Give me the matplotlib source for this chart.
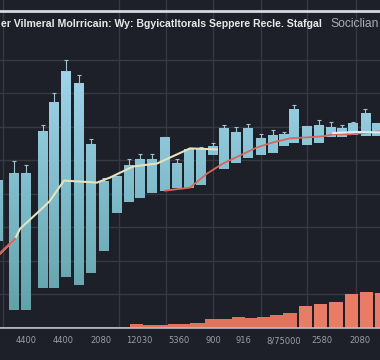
import numpy as np
import matplotlib
matplotlib.use("Agg")
import matplotlib.pyplot as plt
from matplotlib.colors import LinearSegmentedColormap
from matplotlib.lines import Line2D

# floating bars: position, low, high, whisker top (nan = no whisker)
bar_x = [-0.2, 1.12, 2.15, 3.55, 4.46, 5.45, 6.53, 7.52, 8.6, 9.63, 10.62, 11.57,
         12.56, 13.6, 14.63, 15.62, 16.57, 17.56, 18.47, 19.5, 20.5, 21.53, 22.52,
         23.43, 24.3, 25.33, 26.32, 27.31, 28.26, 29.17, 30.2, 31.16]
bar_low = [26.0, 5.4, 5.4, 12.0, 12.0, 15.3, 12.9, 16.5, 23.1, 34.4, 37.7, 38.9,
           40.4, 41.0, 41.9, 41.9, 42.8, 51.5, 47.6, 49.1, 50.6, 51.5, 52.1,
           54.2, 55.1, 54.5, 55.1, 56.9, 56.9, 57.5, 57.2, 57.2]
bar_high = [44.3, 46.4, 46.4, 58.7, 67.4, 76.6, 73.1, 54.8, 44.0, 45.5, 48.8, 50.3,
            50.3, 56.9, 49.1, 53.3, 53.6, 54.2, 59.6, 58.4, 59.6, 56.6, 57.5,
            57.8, 65.3, 60.2, 60.5, 59.9, 59.6, 61.1, 64.1, 61.1]
whisker = [np.nan, 49.7, 48.8, 60.5, 70.1, 79.9, 75.4, 56.3, 44.9, np.nan, 50.3, 51.8,
           51.8, np.nan, 50.3, np.nan, 53.9, 55.1, 60.5, 59.9, 60.8, 57.8, 59.0,
           58.4, 66.5, np.nan, 62.0, 61.4, 60.5, 61.4, 65.3, np.nan]

# cream trend line
trend_x = [0.0, 1.24, 1.65, 3.72, 4.13, 5.29, 8.02, 9.09, 10.99, 12.98, 15.7, 17.93]
trend_y = [22.2, 26.6, 29.6, 36.5, 38.0, 44.0, 43.4, 44.9, 48.2, 49.1, 53.6, 53.3]

# red trend line
red_x = [13.64, 15.7, 17.11, 18.43, 19.83, 21.24, 22.56, 23.97, 25.37, 26.69, 27.52, 28.93, 31.4]
red_y = [41.0, 41.9, 46.1, 49.1, 51.5, 53.9, 55.4, 56.6, 56.9, 57.2, 57.8, 57.8, 58.7]

# light line on the right
light_x = [27.52, 29.42, 31.4]
light_y = [58.2, 58.5, 58.4]

# salmon volume: stepped part + separate bars
step_edges = [0, 9.83, 10.74, 11.82, 13.88, 15.7, 16.94, 19.17, 20.25, 21.24, 22.31, 23.39, 24.55]
step_vals = [0.3, 0.4, 1.2, 0.9, 1.2, 1.5, 2.7, 3.3, 3.0, 3.3, 3.9, 4.5]
vol_x = [25.25, 26.49, 27.77, 29.05, 30.29, 31.57]
vol_vals = [6.6, 7.2, 7.8, 10.2, 10.8, 10.5]

tick_pos = [2.15, 5.2, 8.35, 11.49, 14.79, 17.6, 20.08, 23.47, 26.61, 29.75]
tick_labels = ["4400", "4400", "2080", "12030", "5360", "900", "916", "8/75000", "2580", "2080"]
vgrid = [0.25, 9.83, 13.72, 17.6, 21.57, 25.37, 29.42]

title_main = "er Vilmeral Molrricain: Wy: Bgyicatltorals Seppere Recle. Stafgal"
title_tail = "Sociclian"

bg = "#1d2028"
fig = plt.figure(figsize=(3.8, 3.6), dpi=100, facecolor=bg)
ax = fig.add_axes([0, 0.0889, 1, 0.9111])
ax.set_facecolor(bg)
ax.set_xlim(0, 31.4)
ax.set_ylim(0, 97.9)

for v in range(10, 90, 10):
    ax.axhline(v, color="#363942", lw=1, zorder=0)
for gx in vgrid:
    ax.axvline(gx, color="#363942", lw=1, zorder=0)

# gradient blue bars
cmap = LinearSegmentedColormap.from_list("bars", ["#5f9ea3", "#7fbccb", "#a4d6ec"])
grad = np.linspace(0, 1, 256).reshape(-1, 1)
bars = ax.bar(bar_x, np.array(bar_high) - np.array(bar_low), bottom=bar_low,
              width=0.79, color="none", edgecolor="none", zorder=2)
for b in bars:
    x0, y0 = b.get_x(), b.get_y()
    x1, y1 = x0 + b.get_width(), y0 + b.get_height()
    g = grad[int(y0 / 80 * 255):max(int(y1 / 80 * 255), int(y0 / 80 * 255) + 2)]
    im = ax.imshow(g, extent=[x0, x1, y0, y1], origin="lower", aspect="auto",
                   cmap=cmap, vmin=0, vmax=1, zorder=2)
    im.set_clip_path(b)

wh = np.array(whisker) - np.array(bar_high)
ax.errorbar(bar_x, bar_high, yerr=[np.zeros(len(wh)), wh], fmt="none",
            ecolor="#9cc3cf", elinewidth=0.8, capsize=1.5, capthick=0.8, zorder=3)

# salmon volume
ax.stairs(step_vals, step_edges, fill=True, color="#e2725e", zorder=2)
ax.bar(vol_x, vol_vals, width=1.12, color="#ea7b64", zorder=2)

# lines
ax.plot(trend_x, trend_y, color="#e6e2bf", lw=1.5, zorder=4)
ax.plot(trend_x[:2], trend_y[:2], color="#d3605b", lw=1.5, zorder=4)
ax.plot(red_x, red_y, color="#d8665c", lw=1.3, zorder=4)
ax.plot(light_x, light_y, color="#dcefee", lw=1.5, zorder=4)

for s in ["top", "left", "right"]:
    ax.spines[s].set_visible(False)
ax.spines["bottom"].set_color("#b8bcc4")
ax.spines["bottom"].set_linewidth(1.2)
ax.set_yticks([])
ax.set_xticks(tick_pos)
ax.set_xticklabels(tick_labels, color="#9a9da5", fontsize=6)
ax.tick_params(axis="x", length=0, pad=6)

# header
fig.add_artist(Line2D([0, 1], [0.969, 0.969], color="#d6d8dc", lw=2))
t1 = fig.text(0.002, 0.933, title_main, color="#e6e8ec", fontsize=8,
              family="Liberation Sans", fontweight="bold", ha="left", va="center")
t2 = fig.text(0.998, 0.933, title_tail, color="#a9acb3", fontsize=8,
              family="Liberation Sans", ha="right", va="center")
# shrink header text to the widths seen in the reference
r = fig.canvas.get_renderer()
t1.set_fontsize(8 * 322 / t1.get_window_extent(r).width)
t2.set_fontsize(8 * 49 / t2.get_window_extent(r).width)

fig.savefig("out.png", dpi=100, facecolor=bg)
